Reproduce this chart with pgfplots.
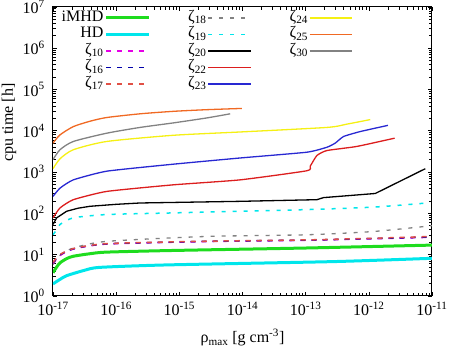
\documentclass[border=0pt]{standalone}
\usepackage{pgfplots}
\pgfplotsset{compat=1.18}
\usepackage{fontspec}
\setmainfont{Liberation Serif}
\definecolor{cgreen}{RGB}{30,220,30}
\definecolor{ccyan}{RGB}{0,230,235}
\definecolor{cmag}{RGB}{230,0,230}
\definecolor{cdblue}{RGB}{0,0,170}
\definecolor{csalmon}{RGB}{225,80,70}
\definecolor{cgray}{RGB}{130,130,130}
\definecolor{cred}{RGB}{220,30,30}
\definecolor{cblue}{RGB}{40,40,210}
\definecolor{cyellow}{RGB}{245,240,20}
\definecolor{corange}{RGB}{240,105,35}
\begin{document}%
\fontsize{16}{18}\selectfont%
\begin{tikzpicture}
\begin{axis}[
  scale only axis, width=379pt, height=289pt,
  xmode=log, ymode=log,
  xmin=1e-17, xmax=1e-11, ymin=1, ymax=1e7,
  xtick={1e-17,1e-16,1e-15,1e-14,1e-13,1e-12,1e-11},
  xticklabels={10\textsuperscript{-17},10\textsuperscript{-16},10\textsuperscript{-15},10\textsuperscript{-14},10\textsuperscript{-13},10\textsuperscript{-12},10\textsuperscript{-11}},
  ytick={1,1e1,1e2,1e3,1e4,1e5,1e6,1e7},
  yticklabels={10\textsuperscript{0},10\textsuperscript{1},10\textsuperscript{2},10\textsuperscript{3},10\textsuperscript{4},10\textsuperscript{5},10\textsuperscript{6},10\textsuperscript{7}},
  xticklabel style={inner sep=0pt, yshift=-6pt},
  yticklabel style={inner sep=0pt, xshift=-8pt},
  xlabel={ρ\textsubscript{max} [g cm\textsuperscript{-3}]},
  ylabel={cpu time [h]},
  xlabel style={at={(axis description cs:0.5,-0.145)}, anchor=center, inner sep=0pt},
  ylabel style={at={(axis description cs:-0.116,0.6)}, anchor=center, inner sep=0pt},
  axis line style={line width=1pt},
  tick style={black, line width=0.6pt},
  legend style={draw=none, fill=none, at={(0.012,0.998)}, anchor=north west,
    nodes={text height=10.5pt, text depth=4pt, inner sep=1pt},
    /tikz/every even column/.append style={column sep=37pt}},
  legend columns=3,
  legend cell align=right, legend plot pos=right,
  legend image code/.code={\draw[#1] (0cm,0cm) -- (1.5cm,0cm);},
  every axis plot/.append style={line width=1.3pt},
]
% iMHD
\addplot[cgreen, line width=3pt, smooth, tension=0.4] coordinates {(1e-17,3.63) (1.143e-17,5.0) (1.291e-17,6.31) (1.648e-17,8.0) (2.099e-17,9.12) (3.855e-17,10.5) (7.079e-17,11.48) (8.072e-16,12.59) (1.045e-13,14.45) (1e-11,16.98)};
\addlegendentry{iMHD}
% zeta18
\addplot[cgray, dash pattern=on 4pt off 7pt, smooth, tension=0.4] coordinates {(1e-17,5.75) (1.291e-17,9.5) (2.099e-17,14.45) (7.079e-17,20.9) (2.723e-15,27.5) (1.045e-13,30.2) (1.191e-12,36.3) (1e-11,50.1)};
\addlegendentry{ζ\textsubscript{18}}
% zeta24
\addplot[cyellow, smooth, tension=0.4] coordinates {(1e-17,1202) (1.291e-17,2089) (2.099e-17,3467) (7.079e-17,5495) (8.072e-16,7762) (9.183e-15,9333) (2.168e-13,12023) (4.498e-13,14454) (1.054e-12,18621)};
\addlegendentry{ζ\textsubscript{24}}
% HD
\addplot[ccyan, line width=3pt, smooth, tension=0.4] coordinates {(1e-17,1.95) (1.291e-17,2.51) (1.648e-17,3.09) (3.162e-17,4.17) (5.495e-17,4.90) (6.31e-16,5.62) (2.69e-13,6.76) (1e-11,8.13)};
\addlegendentry{HD}
% zeta19
\addplot[ccyan, dash pattern=on 4pt off 7pt, line width=1.5pt, smooth, tension=0.4] coordinates {(1e-17,30.2) (1.143e-17,40.0) (1.291e-17,53.7) (2.099e-17,77.6) (7.079e-17,93.3) (8.072e-16,102.3) (1.045e-13,123) (1.191e-12,141.3) (8.337e-12,177.8)};
\addlegendentry{ζ\textsubscript{19}}
% zeta25
\addplot[corange, smooth, tension=0.4] coordinates {(1e-17,5012) (1.291e-17,7943) (2.099e-17,12589) (3.855e-17,16982) (7.079e-17,20893) (2.393e-16,25704) (8.072e-16,29512) (2.723e-15,32359) (9.772e-15,34674)};
\addlegendentry{ζ\textsubscript{25}}
% zeta10
\addplot[cmag, dash pattern=on 5pt off 6pt, line width=1.5pt, smooth, tension=0.4] coordinates {(1e-17,6.1) (1.291e-17,9.5) (2.099e-17,13.6) (7.079e-17,18.0) (2.723e-15,20.7) (1.045e-13,22.2) (1.191e-12,24.2) (1e-11,26.3)};
\addlegendentry{ζ\textsubscript{10}}
% zeta20
\addplot[black] coordinates {(1e-17,53.7) (1.143e-17,77.6) (1.648e-17,112.2) (2.5e-17,133) (3.855e-17,147.9) (1e-16,165) (2.393e-16,177.8) (9.183e-15,195) (1.507e-13,213.8) (1.919e-13,239.9) (1.265e-12,302) (7.834e-12,1202)};
\addlegendentry{ζ\textsubscript{20}}
% zeta30
\addplot[cgray, smooth, tension=0.4] coordinates {(1e-17,1995) (1.291e-17,3467) (2.099e-17,5495) (7.079e-17,8710) (2.393e-16,12023) (8.072e-16,15488) (2.723e-15,20417) (6.383e-15,25704)};
\addlegendentry{ζ\textsubscript{30}}
% zeta16
\addplot[cdblue, dash pattern=on 5pt off 6pt, line width=1.5pt, smooth, tension=0.4] coordinates {(1e-17,6.31) (1.291e-17,9.8) (2.099e-17,13.8) (7.079e-17,18.2) (2.723e-15,20.9) (1.045e-13,22.4) (1.191e-12,24.5) (9.5e-12,26.6)};
\addlegendentry{ζ\textsubscript{16}}
% zeta22
\addplot[cred, smooth, tension=0.3] coordinates {(1e-17,77.6) (1.291e-17,134.9) (2.099e-17,213.8) (7.079e-17,338.8) (8.072e-16,489.8) (9.183e-15,645.7) (1.045e-13,1072) (1.180e-13,1380) (1.507e-13,2512) (2.168e-13,3311) (6.486e-13,4169) (2.564e-12,6607)};
\addlegendentry{ζ\textsubscript{22}}
\addlegendimage{empty legend}
\addlegendentry{}
% zeta17
\addplot[csalmon, dash pattern=on 5pt off 6pt, line width=1.5pt, smooth, tension=0.4] coordinates {(1e-17,6.5) (1.291e-17,10.0) (2.099e-17,14.0) (7.079e-17,18.4) (2.723e-15,21.1) (1.045e-13,22.7) (1.191e-12,24.9) (1e-11,27.5)};
\addlegendentry{ζ\textsubscript{17}}
% zeta23
\addplot[cblue, smooth, tension=0.3] coordinates {(1e-17,257) (1.291e-17,407) (2.099e-17,646) (7.079e-17,1047) (8.072e-16,1549) (9.183e-15,2188) (1.045e-13,3020) (2.168e-13,3981) (2.938e-13,5012) (3.981e-13,7244) (7.311e-13,9550) (2.009e-12,13490)};
\addlegendentry{ζ\textsubscript{23}}
\end{axis}
\path ([xshift=-53pt,yshift=-51pt]current axis.south west) rectangle ([xshift=23pt,yshift=6pt]current axis.north east);
\end{tikzpicture}%
\end{document}
